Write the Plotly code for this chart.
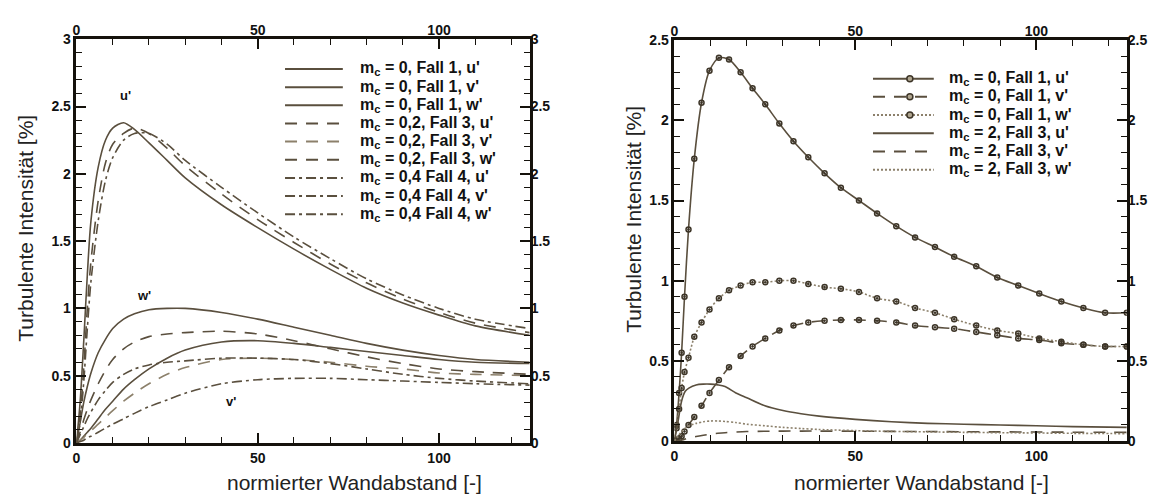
import plotly.graph_objects as go

# ---------------- left panel: m_c = 0 / 0.2 / 0.4 ----------------
x_left = [0, 1, 2, 3, 4, 6, 8, 10, 13, 16, 20, 25, 30, 40, 50, 60, 70, 80, 90, 100, 110, 125]

f1_u = [0, 0.30, 0.75, 1.25, 1.65, 2.05, 2.25, 2.34, 2.38, 2.33, 2.23, 2.10, 1.97, 1.77, 1.60, 1.44, 1.29, 1.15, 1.04, 0.95, 0.87, 0.80]
f1_v = [0, 0.02, 0.05, 0.08, 0.11, 0.18, 0.25, 0.31, 0.40, 0.47, 0.55, 0.63, 0.69, 0.75, 0.76, 0.74, 0.71, 0.68, 0.65, 0.62, 0.60, 0.59]
f1_w = [0, 0.15, 0.30, 0.42, 0.52, 0.67, 0.77, 0.85, 0.92, 0.96, 0.99, 1.00, 1.00, 0.97, 0.92, 0.86, 0.80, 0.74, 0.69, 0.65, 0.62, 0.60]

f3_u = [0, 0.20, 0.55, 1.00, 1.35, 1.80, 2.08, 2.22, 2.30, 2.34, 2.30, 2.19, 2.06, 1.85, 1.66, 1.49, 1.33, 1.19, 1.07, 0.97, 0.89, 0.82]
f3_v = [0, 0.02, 0.04, 0.07, 0.09, 0.14, 0.19, 0.24, 0.31, 0.37, 0.44, 0.51, 0.56, 0.62, 0.63, 0.62, 0.60, 0.57, 0.55, 0.52, 0.51, 0.50]
f3_w = [0, 0.08, 0.17, 0.25, 0.32, 0.44, 0.54, 0.62, 0.70, 0.75, 0.79, 0.81, 0.82, 0.83, 0.81, 0.76, 0.70, 0.64, 0.59, 0.55, 0.53, 0.51]

f4_u = [0, 0.15, 0.45, 0.85, 1.20, 1.65, 1.95, 2.12, 2.25, 2.30, 2.30, 2.22, 2.10, 1.90, 1.71, 1.53, 1.37, 1.22, 1.10, 1.00, 0.92, 0.85]
f4_v = [0, 0.01, 0.02, 0.04, 0.05, 0.08, 0.11, 0.14, 0.18, 0.22, 0.27, 0.32, 0.37, 0.44, 0.47, 0.48, 0.48, 0.47, 0.46, 0.45, 0.44, 0.43]
f4_w = [0, 0.06, 0.12, 0.18, 0.23, 0.32, 0.39, 0.45, 0.51, 0.55, 0.58, 0.60, 0.61, 0.63, 0.63, 0.62, 0.59, 0.55, 0.51, 0.48, 0.46, 0.44]

# ---------------- right panel: m_c = 0 / 2 ----------------
x_right_f1 = [0, 0.6, 1.3, 2.0, 2.8, 3.9, 5.5, 7.5, 9.7, 12.3, 15.1, 18.3, 21.6, 25.1, 29.0, 32.9, 37.0,
              41.5, 46.0, 51.0, 56.0, 61.3, 66.5, 72.0, 77.3, 83.4, 89.2, 95.0, 100.8, 106.9, 113.0, 119.0, 125.0]
r1_u = [0, 0.10, 0.30, 0.55, 0.90, 1.32, 1.76, 2.11, 2.31, 2.39, 2.38, 2.30, 2.20, 2.10, 1.98, 1.87, 1.77,
        1.67, 1.58, 1.50, 1.42, 1.34, 1.27, 1.21, 1.15, 1.09, 1.02, 0.97, 0.92, 0.87, 0.83, 0.80, 0.80]
r1_v = [0, 0.005, 0.015, 0.03, 0.06, 0.10, 0.15, 0.22, 0.30, 0.38, 0.46, 0.53, 0.59, 0.64, 0.69, 0.72, 0.74,
        0.75, 0.755, 0.755, 0.75, 0.74, 0.72, 0.71, 0.70, 0.68, 0.66, 0.64, 0.63, 0.61, 0.60, 0.59, 0.59]
r1_w = [0, 0.08, 0.20, 0.33, 0.43, 0.52, 0.65, 0.74, 0.82, 0.89, 0.94, 0.97, 0.99, 0.99, 1.00, 1.00, 0.98,
        0.96, 0.95, 0.93, 0.89, 0.87, 0.83, 0.80, 0.76, 0.72, 0.69, 0.67, 0.64, 0.62, 0.60, 0.59, 0.59]

x_right_f3 = [0, 1, 2, 3, 4, 6, 8, 10, 12, 14, 17, 20, 25, 30, 35, 40, 50, 60, 70, 80, 90, 100, 110, 125]
r3_u = [0, 0.12, 0.25, 0.31, 0.33, 0.35, 0.355, 0.355, 0.35, 0.34, 0.30, 0.27, 0.22, 0.19, 0.17, 0.155,
        0.135, 0.12, 0.11, 0.105, 0.10, 0.095, 0.09, 0.085]
r3_v = [0, 0.002, 0.006, 0.012, 0.018, 0.028, 0.036, 0.043, 0.048, 0.052, 0.056, 0.059, 0.061, 0.062,
        0.062, 0.062, 0.061, 0.060, 0.059, 0.058, 0.057, 0.056, 0.055, 0.054]
r3_w = [0, 0.03, 0.06, 0.08, 0.095, 0.11, 0.12, 0.125, 0.125, 0.122, 0.115, 0.105, 0.095, 0.085, 0.078,
        0.072, 0.065, 0.060, 0.057, 0.054, 0.052, 0.050, 0.048, 0.046]

left_names = ["m<sub>c</sub> = 0, Fall 1, u'", "m<sub>c</sub> = 0, Fall 1, v'", "m<sub>c</sub> = 0, Fall 1, w'",
              "m<sub>c</sub> = 0,2, Fall 3, u'", "m<sub>c</sub> = 0,2, Fall 3, v'", "m<sub>c</sub> = 0,2, Fall 3, w'",
              "m<sub>c</sub> = 0,4 Fall 4, u'", "m<sub>c</sub> = 0,4 Fall 4, v'", "m<sub>c</sub> = 0,4 Fall 4, w'"]
right_names = ["m<sub>c</sub> = 0, Fall 1, u'", "m<sub>c</sub> = 0, Fall 1, v'", "m<sub>c</sub> = 0, Fall 1, w'",
               "m<sub>c</sub> = 2, Fall 3, u'", "m<sub>c</sub> = 2, Fall 3, v'", "m<sub>c</sub> = 2, Fall 3, w'"]

W, H = 1160, 501
FONT = "Liberation Sans, Arial, sans-serif"
LINE = "#5a4f3e"
LIGHT = "#8c806b"
AXIS = "#15120c"
MARK = "#3d3528"

SOLID = "solid"
DASH = "12px,9px"
DASHDOT = "10px,4px,3px,4px"
DOT = "2px,2px"

fig = go.Figure()

# (values, dash, colour, with markers)
left_series = [
    (f1_u, SOLID, LINE, False), (f1_v, SOLID, LINE, False), (f1_w, SOLID, LINE, False),
    (f3_u, DASH, LINE, False), (f3_v, DASH, LIGHT, False), (f3_w, DASH, LINE, False),
    (f4_u, DASHDOT, LINE, False), (f4_v, DASHDOT, LINE, False), (f4_w, DASHDOT, LINE, False),
]
for (ys, dash, col, _), name in zip(left_series, left_names):
    fig.add_trace(go.Scatter(
        x=x_left, y=ys, name=name, mode="lines", showlegend=False,
        line=dict(color=col, width=1.6, dash=dash, shape="spline", smoothing=0.8),
        xaxis="x", yaxis="y"))

right_series = [
    (r1_u, SOLID, LINE, True), (r1_v, DASH, LINE, True), (r1_w, DOT, LIGHT, True),
    (r3_u, SOLID, LINE, False), (r3_v, DASH, LINE, False), (r3_w, DOT, LIGHT, False),
]
for (ys, dash, col, marked), name in zip(right_series, right_names):
    fig.add_trace(go.Scatter(
        x=x_right_f1 if marked else x_right_f3, y=ys, name=name,
        mode="lines+markers" if marked else "lines", showlegend=False,
        line=dict(color=col, width=1.6, dash=dash, shape="spline", smoothing=0.8),
        marker=dict(symbol="circle-open-dot", size=5, color=MARK, line=dict(width=1.5, color=MARK)),
        xaxis="x2", yaxis="y2"))

# carriers for the labelled top / right axes
for xa, ya in (("x3", "y3"), ("x4", "y4")):
    fig.add_trace(go.Scatter(x=[None], y=[None], xaxis=xa, yaxis=ya,
                             showlegend=False, hoverinfo="skip"))

tickfont = dict(family=FONT, size=14, color="#111", weight="bold")


def main_axis(domain, rng, dtick, minor_dtick, anchor):
    return dict(domain=domain, range=rng, anchor=anchor, dtick=dtick, tick0=0,
                showgrid=False, zeroline=False, showline=True, linewidth=2.5,
                linecolor=AXIS, mirror="ticks", ticks="inside", ticklen=10,
                tickwidth=2, tickcolor=AXIS, tickfont=tickfont,
                minor=dict(dtick=minor_dtick, tick0=0, ticks="inside", ticklen=6,
                           tickwidth=1.3, tickcolor=AXIS, showgrid=False))


def label_axis(rng, dtick, overlay, side, anchor):
    return dict(range=rng, overlaying=overlay, side=side, anchor=anchor, dtick=dtick,
                tick0=0, showgrid=False, zeroline=False, showline=False, ticks="",
                tickfont=tickfont)


LX = [72.7 / W, 527.5 / W]
LY = [1 - 449.3 / H, 1 - 32.3 / H]
RX = [672.7 / W, 1126.7 / W]
RY = [1 - 447.3 / H, 1 - 33.3 / H]

fig.update_layout(
    width=W, height=H,
    margin=dict(l=0, r=0, t=0, b=0),
    paper_bgcolor="white", plot_bgcolor="white",
    font=dict(family=FONT, color="#111"),
    showlegend=False,
    xaxis=main_axis(LX, [0, 125], 50, 10, "y"),
    yaxis=main_axis(LY, [0, 3], 0.5, 0.1, "x"),
    xaxis2=main_axis(RX, [0, 125], 50, 10, "y2"),
    yaxis2=main_axis(RY, [0, 2.5], 0.5, 0.1, "x2"),
    xaxis3=label_axis([0, 125], 50, "x", "top", "y3"),
    yaxis3=label_axis([0, 3], 0.5, "y", "right", "x3"),
    xaxis4=label_axis([0, 125], 50, "x2", "top", "y4"),
    yaxis4=label_axis([0, 2.5], 0.5, "y2", "right", "x4"),
)


def px(xp, yp):
    return xp / W, 1 - yp / H


# legend boxes: line sample + label, one row per series
legend_font = dict(family=FONT, size=16, color="#111", weight="bold")


def draw_legend(series, names, x0, x1, x_text, y_first, step, marker_x=None):
    for i, ((_, dash, col, marked), name) in enumerate(zip(series, names)):
        yp = y_first + step * i
        ax0, ay = px(x0, yp)
        ax1, _ = px(x1, yp)
        fig.add_shape(type="line", xref="paper", yref="paper", x0=ax0, x1=ax1, y0=ay, y1=ay,
                      line=dict(color=col, width=2, dash=dash))
        if marked and marker_x is not None:
            mx, _ = px(marker_x, yp)
            fig.add_shape(type="circle", xref="paper", yref="paper",
                          xsizemode="pixel", ysizemode="pixel", xanchor=mx, yanchor=ay,
                          x0=-3, x1=3, y0=-3, y1=3,
                          line=dict(color=MARK, width=1.5), fillcolor="#b0a690")
        tx, _ = px(x_text, yp)
        fig.add_annotation(text=name, xref="paper", yref="paper", x=tx, y=ay,
                           xanchor="left", yanchor="middle", showarrow=False, font=legend_font)


draw_legend(left_series, left_names, 282, 340, 355, 63, 18.75)
draw_legend(right_series, right_names, 872, 933, 946, 73, 18.8, marker_x=909)

# axis titles
title_font = dict(family=FONT, size=21, color="#222")
for txt, xp_, yp_, ang in (("Turbulente Intensität [%]", 22, 227, -90),
                           ("Turbulente Intensität [%]", 631, 218, -90),
                           ("normierter Wandabstand [-]", 352, 490, 0),
                           ("normierter Wandabstand [-]", 921, 490, 0)):
    ax, ay = px(xp_, yp_)
    fig.add_annotation(text=txt, xref="paper", yref="paper", x=ax, y=ay, textangle=ang,
                       xanchor="center", yanchor="middle", showarrow=False, font=title_font)

# component labels in the left panel
comp_font = dict(family=FONT, size=13, color="#111", weight="bold")
for txt, xv, yv in (("u'", 13.5, 2.585), ("w'", 18.5, 1.095), ("v'", 42.5, 0.31)):
    fig.add_annotation(text=txt, x=xv, y=yv, xref="x", yref="y", showarrow=False, font=comp_font)

fig.write_html("out.html")
